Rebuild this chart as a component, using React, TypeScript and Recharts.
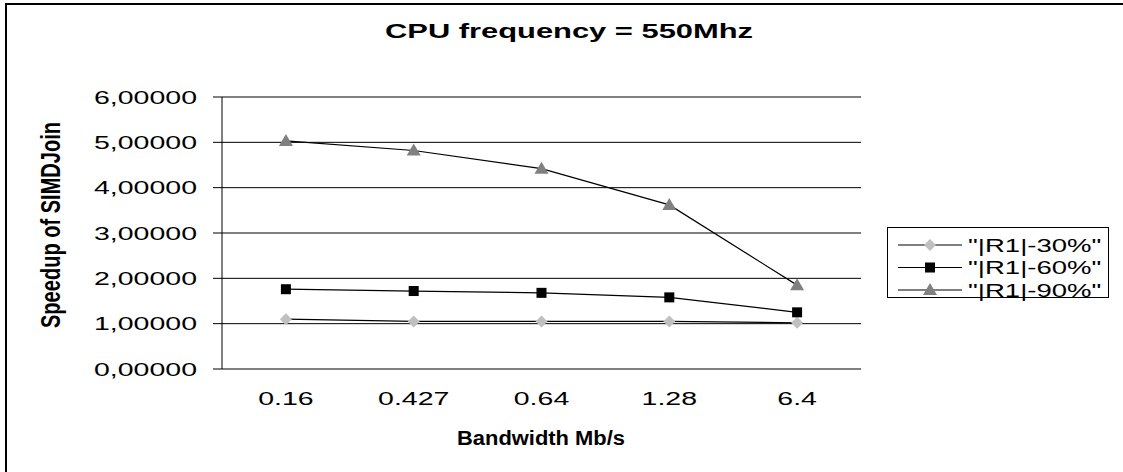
import React from 'react'
import { LineChart, Line, XAxis, YAxis, CartesianGrid, ReferenceLine } from 'recharts'

const bandwidths = ['0.16', '0.427', '0.64', '1.28', '6.4']
const r1Pct30 = [1.1, 1.05, 1.05, 1.05, 1.02]
const r1Pct60 = [1.76, 1.72, 1.68, 1.58, 1.25]
const r1Pct90 = [5.03, 4.82, 4.42, 3.62, 1.85]
const yTicks = [0, 1, 2, 3, 4, 5, 6]
const seriesNames = ['"|R1|-30%"', '"|R1|-60%"', '"|R1|-90%"']
const seriesKeys = ['r30', 'r60', 'r90']

const title = 'CPU frequency = 550Mhz'
const xTitle = 'Bandwidth Mb/s'
const yTitle = 'Speedup of SIMDJoin'

const data = bandwidths.map((b, i) => ({
  x: i + 0.5,
  label: b,
  r30: r1Pct30[i],
  r60: r1Pct60[i],
  r90: r1Pct90[i],
}))

const FONT = 'Arial, "Liberation Sans", Helvetica, sans-serif'
const SX = 1.5 // text in the original is stretched horizontally

type MarkerKind = 'diamond' | 'square' | 'triangle'
const markerOf: Record<string, { kind: MarkerKind; fill: string }> = {
  r30: { kind: 'diamond', fill: '#c0c0c0' },
  r60: { kind: 'square', fill: '#000000' },
  r90: { kind: 'triangle', fill: '#808080' },
}

function Marker({ cx, cy, kind, fill }: { cx: number; cy: number; kind: MarkerKind; fill: string }) {
  if (cx == null || cy == null) return null
  if (kind === 'diamond') {
    return <polygon points={`${cx},${cy - 6} ${cx + 6},${cy} ${cx},${cy + 6} ${cx - 6},${cy}`} fill={fill} />
  }
  if (kind === 'square') {
    return <rect x={cx - 5} y={cy - 5} width={10} height={10} fill={fill} />
  }
  return <polygon points={`${cx},${cy - 7} ${cx + 7},${cy + 5} ${cx - 7},${cy + 5}`} fill={fill} />
}

const fmtY = (v: number) => v.toFixed(5).replace('.', ',')

function YTick(props: any) {
  const { x, y, payload } = props
  return (
    <text
      transform={`translate(${x},${y}) scale(${SX},1)`}
      textAnchor="end"
      dy="0.355em"
      fontSize={19}
      fontFamily={FONT}
      fill="#000"
    >
      {fmtY(payload.value)}
    </text>
  )
}

function XTick(props: any) {
  const { x, y, payload } = props
  const label = bandwidths[Math.floor(payload.value)]
  return (
    <text
      transform={`translate(${x},${y}) scale(${SX},1)`}
      textAnchor="middle"
      dy="0.71em"
      fontSize={19}
      fontFamily={FONT}
      fill="#000"
    >
      {label}
    </text>
  )
}

export default function App() {
  return (
    <div style={{ position: 'absolute', left: 0, top: 0, width: 1123, height: 472, background: '#fff' }}>
      <LineChart
        width={1123}
        height={472}
        data={data}
        margin={{ top: 97, right: 262, left: 0, bottom: 0 }}
      >
        <CartesianGrid xAxisId="grid" vertical={false} stroke="#000" strokeWidth={1} />
        <XAxis
          xAxisId="grid"
          type="number"
          dataKey="x"
          domain={[0, 5]}
          ticks={[0, 1, 2, 3, 4, 5]}
          tick={false}
          tickSize={9}
          height={0}
          stroke="#000"
          allowDataOverflow
        />
        <XAxis
          xAxisId="lab"
          type="number"
          dataKey="x"
          domain={[0, 5]}
          ticks={[0.5, 1.5, 2.5, 3.5, 4.5]}
          tick={<XTick />}
          tickLine={false}
          axisLine={false}
          tickSize={0}
          tickMargin={23}
          height={103}
        />
        <YAxis
          type="number"
          domain={[0, 6]}
          ticks={yTicks}
          tick={<YTick />}
          tickSize={9}
          tickMargin={16}
          width={222}
          stroke="#000"
        />
        <YAxis
          yAxisId="right"
          orientation="right"
          type="number"
          domain={[0, 6]}
          tick={false}
          tickLine={false}
          width={0}
          stroke="#808080"
          strokeWidth={2}
        />
        <ReferenceLine xAxisId="grid" y={6} stroke="#808080" strokeWidth={2} />
        {seriesKeys.map((k, i) => (
          <Line
            key={k}
            xAxisId="grid"
            dataKey={k}
            name={seriesNames[i]}
            type="linear"
            stroke="#000"
            strokeWidth={1.2}
            isAnimationActive={false}
            dot={(p: any) => (
              <Marker key={`${k}-${p.index}`} cx={p.cx} cy={p.cy} kind={markerOf[k].kind} fill={markerOf[k].fill} />
            )}
            activeDot={false}
          />
        ))}
      </LineChart>

      <svg
        width={1123}
        height={472}
        style={{ position: 'absolute', left: 0, top: 0, pointerEvents: 'none' }}
      >
        {/* outer frame, only left and top visible */}
        <line x1={5} y1={4} x2={1123} y2={4} stroke="#000" strokeWidth={2} />
        <line x1={6} y1={3} x2={6} y2={472} stroke="#000" strokeWidth={2} />

        <text
          x={569}
          y={38}
          textAnchor="middle"
          fontSize={20}
          fontWeight="bold"
          fontFamily={FONT}
          textLength={368}
          lengthAdjust="spacingAndGlyphs"
        >
          {title}
        </text>

        <text
          x={541}
          y={445}
          textAnchor="middle"
          fontSize={20}
          fontWeight="bold"
          fontFamily={FONT}
          textLength={168}
          lengthAdjust="spacingAndGlyphs"
        >
          {xTitle}
        </text>

        <g transform={`translate(60,225) scale(1.5,1) rotate(-90)`}>
          <text
            x={0}
            y={0}
            textAnchor="middle"
            fontSize={19}
            fontWeight="bold"
            fontFamily={FONT}
            textLength={206}
            lengthAdjust="spacingAndGlyphs"
          >
            {yTitle}
          </text>
        </g>

        {/* legend */}
        <rect x={887.5} y={227.5} width={221} height={70} fill="#fff" stroke="#000" strokeWidth={1} />
        {seriesKeys.map((k, i) => {
          const cy = 245 + i * 22.5
          return (
            <g key={k}>
              <line x1={898} y1={cy} x2={962} y2={cy} stroke="#000" strokeWidth={1.2} />
              <Marker cx={930} cy={cy} kind={markerOf[k].kind} fill={markerOf[k].fill} />
              <text
                transform={`translate(968,${cy}) scale(1.45,1)`}
                dy="0.355em"
                fontSize={19}
                fontFamily={FONT}
              >
                {seriesNames[i]}
              </text>
            </g>
          )
        })}
      </svg>
    </div>
  )
}
